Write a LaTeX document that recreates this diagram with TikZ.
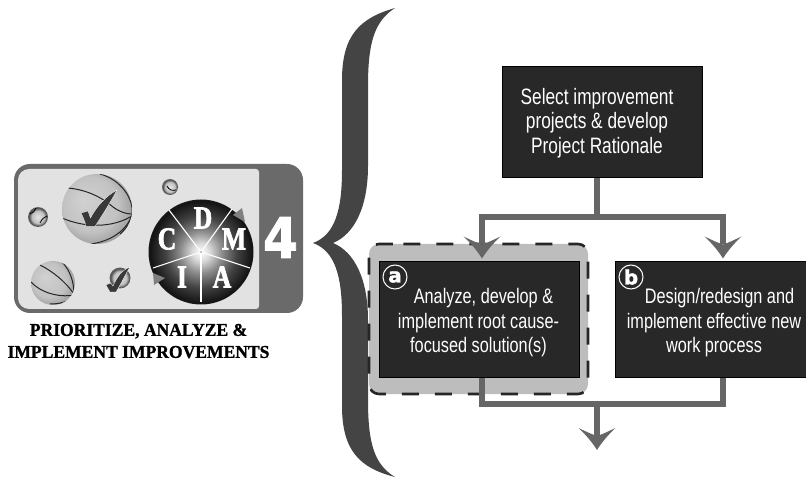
\documentclass[tikz,border=0pt]{standalone}
\usepackage{fontspec}
\usetikzlibrary{arrows.meta,calc}
\setmainfont{Liberation Serif}
\newfontfamily\narrowsans[FakeStretch=0.775]{Liberation Sans}
\newfontfamily\widesans[BoldFeatures={FakeBold=1.5}]{DejaVu Sans}
\newfontfamily\capfont[FakeBold=1.2,FakeStretch=0.97]{Liberation Serif Bold}
\newfontfamily\discfont[FakeStretch=0.8,FakeBold=2]{Liberation Serif Bold}
\definecolor{boxfill}{HTML}{282828}
\definecolor{flowc}{HTML}{666666}
\definecolor{bracec}{HTML}{444444}
\definecolor{halo}{HTML}{BDBDBD}
\definecolor{panel}{HTML}{E2E2E2}
\definecolor{tab}{HTML}{6A6A6A}
\pgfdeclareradialshading{ballsh}{\pgfpoint{-0.35cm}{0.25cm}}{color(0cm)=(white!82!black); color(0.7cm)=(white!76!black); color(1.05cm)=(white!60!black); color(1.35cm)=(white!35!black)}
\pgfdeclareradialshading{tinysh}{\pgfpointorigin}{color(0cm)=(white!90!black); color(0.55cm)=(white!75!black); color(0.8cm)=(white!30!black); color(1cm)=(white!50!black)}
\pgfdeclareradialshading{discsh}{\pgfpointorigin}{color(0cm)=(white); color(0.15cm)=(white!85!black); color(0.35cm)=(white!55!black); color(0.6cm)=(white!26!black); color(0.85cm)=(white!8!black); color(0.95cm)=(white!12!black); color(1cm)=(white!50!black)}
\pgfdeclarearrow{
  name=BarbHead,
  setup code={
    \pgfarrowssettipend{0pt}
    \pgfarrowssetlineend{-14pt}
    \pgfarrowssetbackend{-22pt}
    \pgfarrowssetvisualbackend{-14pt}
    \pgfarrowshullpoint{0pt}{0pt}
    \pgfarrowshullpoint{-22pt}{18.5pt}
    \pgfarrowshullpoint{-22pt}{-18.5pt}
  },
  drawing code={
    \pgfpathmoveto{\pgfpoint{0pt}{0pt}}
    \pgfpathcurveto{\pgfpoint{-8pt}{5pt}}{\pgfpoint{-15pt}{11pt}}{\pgfpoint{-22pt}{18.5pt}}
    \pgfpathcurveto{\pgfpoint{-18pt}{10pt}}{\pgfpoint{-16pt}{6pt}}{\pgfpoint{-14pt}{0pt}}
    \pgfpathcurveto{\pgfpoint{-16pt}{-6pt}}{\pgfpoint{-18pt}{-10pt}}{\pgfpoint{-22pt}{-18.5pt}}
    \pgfpathcurveto{\pgfpoint{-15pt}{-11pt}}{\pgfpoint{-8pt}{-5pt}}{\pgfpoint{0pt}{0pt}}
    \pgfpathclose
    \pgfusepathqfill
  }
}
\tikzset{
  darkbox/.style={draw=black,line width=1pt,fill=boxfill,inner sep=0pt,minimum width=#1},
  flow/.style={draw=flowc,line width=6pt},
  flowtip/.style={flow,-{BarbHead}},
  boxtext/.style={text=white,font=\narrowsans\fontsize{21}{24.5}\selectfont,align=center,inner sep=0pt},
  toptext/.style={boxtext,font=\narrowsans\fontsize{22.3}{24.5}\selectfont},
  badge/.style={circle,draw=white,line width=1pt,minimum size=24pt,inner sep=0pt,text=white,font=\widesans\bfseries\fontsize{20}{20}\selectfont},
  seam/.style={draw=black!85,line width=1pt},
  discletter/.style={text=white,font=\discfont\fontsize{32}{32}\selectfont,inner sep=0pt},
  spoke/.style={draw=white,line width=1.1pt},
  rimtip/.style={fill=white!50!black,draw=none},
  checkm/.style={fill=black!78,draw=white,line width=.3pt},
  caption/.style={font=\capfont\fontsize{18.1}{22}\selectfont,align=center,inner sep=0pt}
}
\begin{document}
\begin{tikzpicture}[x=1pt,y=-1pt]
\useasboundingbox (0,0) rectangle (806,478);
\clip (0,0) rectangle (806,478);
% left panel
\fill[tab,rounded corners=16pt] (14,164) rectangle (303,313);
\fill[panel,rounded corners=11pt] (259,230) [rounded corners=3pt] -- (259,169) [rounded corners=11pt] -- (18,169) -- (18,309) [rounded corners=3pt] -- (259,309) -- cycle;
% big ball
\shade[shading=ballsh] (97,209) circle (35);
\begin{scope}
\clip (97,209) circle (35);
\draw[seam] (68,188) .. controls (90,190) and (105,200) .. (113,207) .. controls (120,212) and (126,214) .. (132,214);
\draw[seam] (100,174) .. controls (122,180) and (134,200) .. (132,214) .. controls (131,222) and (126,229) .. (120,234);
\draw[seam] (62,218) .. controls (85,228) and (112,228) .. (132,216);
\draw[seam] (90,244) .. controls (110,242) and (128,230) .. (132,214);
\end{scope}
\draw[checkm] (81,213) -- (88,211) -- (90.5,218) .. controls (97,206) and (106,196) .. (117,190) .. controls (110,203) and (103,214) .. (95,226.5) -- (86,226.5) .. controls (85,221) and (83,217) .. (81,213) -- cycle;
% lower ball
\shade[shading=ballsh] (53,283) circle (22);
\begin{scope}
\clip (53,283) circle (22);
\draw[seam] (40,265) .. controls (52,271) and (65,281) .. (74,294);
\draw[seam] (62,262) .. controls (70,270) and (74,282) .. (74,294);
\draw[seam] (31,282) .. controls (40,292) and (58,298) .. (74,295);
\draw[seam] (50,304) .. controls (60,304) and (68,302) .. (74,296);
\end{scope}
% tiny balls
\shade[shading=tinysh] (38,217) circle (10);
\draw[black,line width=.8pt] (40,223) .. controls (42,219) and (44,217) .. (47,216);
\draw[black,line width=.8pt] (30,214) .. controls (33,213) and (35,211) .. (36,208);
\shade[shading=tinysh] (170,187) circle (8);
\draw[black,line width=.8pt] (167,186) .. controls (169,190) and (172,191) .. (176,190);
\shade[shading=tinysh] (120,278) circle (10.5);
\draw[checkm] (106,285) -- (110.5,283) -- (113,286) .. controls (117,277) and (122,270) .. (130,267) .. controls (125,275) and (121,284) .. (116,292) -- (110,292) -- cycle;
% DMAIC disc
\shade[shading=discsh] (201,252) circle (52.5);
\coordinate (hub) at (201,252);
\foreach \ex/\ey in {169/210,232/209,250/268,201/302,153/268}{\draw[spoke] (hub) -- (\ex,\ey);}
\fill[black] (hub) circle (.6);
\fill[rimtip] (233,215) -- (242,208) -- (245,222) -- cycle;
\fill[rimtip] (153,273) -- (165,278) -- (154,285) -- cycle;
\node[discletter] (d) at (203,218) {D};
\node[discletter] (m) at (234,239) {M};
\node[discletter] (ai) at (222,277) {A};
\node[discletter] (i) at (182,277) {I};
\node[discletter] (c) at (167,239) {C};
\node[text=white,font=\widesans\bfseries\fontsize{56}{56}\selectfont,xscale=.9,inner sep=0pt] (four) at (280.5,237.5) {4};
\node[caption] (cap) at (138.5,341) {PRIORITIZE, ANALYZE \&\\IMPLEMENT IMPROVEMENTS};
% brace
\fill[bracec] (395,8) .. controls (360,18) and (342,35) .. (342,80) -- (342,170) .. controls (342,210) and (335,235) .. (313,243)
 .. controls (335,251) and (342,276) .. (342,316) -- (342,406) .. controls (342,451) and (360,468) .. (395,477)
 .. controls (375,465) and (368,445) .. (368,400) -- (368,320) .. controls (368,280) and (355,252) .. (333,243)
 .. controls (355,234) and (368,206) .. (368,166) -- (368,86) .. controls (368,41) and (375,21) .. (395,8) -- cycle;
% halo
\fill[halo,rounded corners=10pt] (369,244) rectangle (588,394);
\draw[black!85,line width=2.6pt,rounded corners=10pt,dash pattern=on 17pt off 16pt] (403.3,244) -- (588,244) -- (588,394) -- (369,394) -- (369,244) -- (403.3,244);
% boxes
\node[darkbox=200pt,minimum height=111pt] (sel) at (602,122.5) {};
\node[darkbox=200pt,minimum height=115pt] (a) at (479,319.5) {};
\node[darkbox=216pt,minimum height=115pt] (b) at (723,319.5) {};
\coordinate (split) at (597,217);
\coordinate (merge) at (597,404);
\coordinate (out) at (597,450);
% connectors
\draw[flow] (sel.south -| split) -- (split);
\draw[flowtip,shorten >=3pt] (split) -| ([xshift=3pt]a.north);
\draw[flowtip,shorten >=3pt] (split) -| (b.north);
\draw[flow] ([xshift=3pt]a.south) |- (merge);
\draw[flow] (b.south) |- (merge);
\draw[flowtip] (merge) -- (out);
% text
\node[toptext] (selt) at (597,123) {Select improvement\\projects \& develop\\Project Rationale};
\node[boxtext] (at) at (478.5,323) {\hspace*{10pt}Analyze, develop \&\\implement root cause-\\focused solution(s)};
\node[boxtext] (bt) at (714,323) {\hspace*{11pt}Design/redesign and\\implement effective new\\work process};
\node[badge] (ba) at (395,277) {a};
\node[badge] (bb) at (631,277) {b};
\end{tikzpicture}
\end{document}
